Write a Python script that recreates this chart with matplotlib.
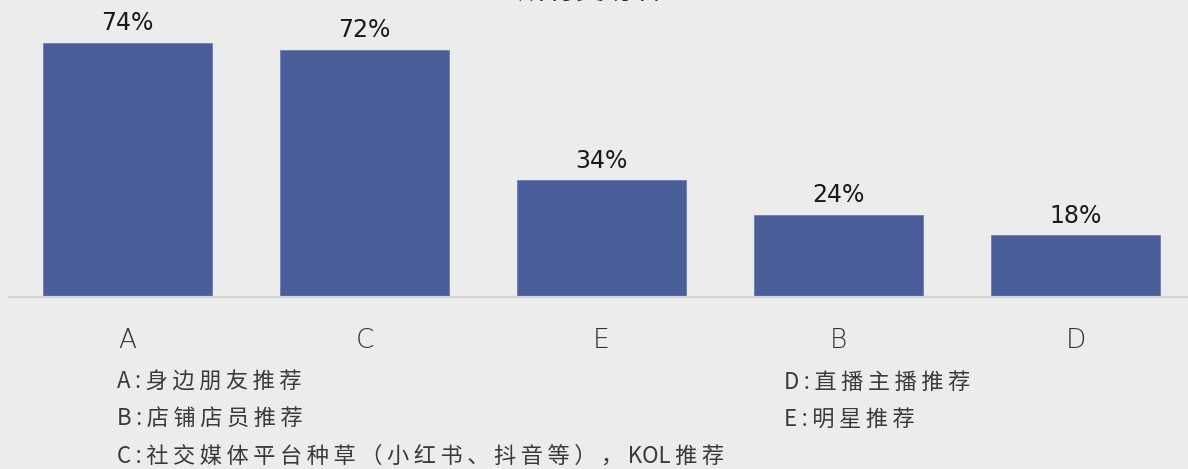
import matplotlib.pyplot as plt

plt.rcParams['font.family'] = ['Noto Sans CJK SC', 'DejaVu Sans']

# 数据
categories = ['A', 'C', 'E', 'B', 'D']
values = [74, 72, 34, 24, 18]
title = '所有受访者'
notes_left = ['A:身边朋友推荐', 'B:店铺店员推荐', 'C:社交媒体平台种草（小红书、抖音等），KOL推荐']
notes_right = ['D:直播主播推荐', 'E:明星推荐']

bar_color = '#4A5F99'
bg = '#ececec'
W, H = 1188, 469


def spaced(s):
    # 模拟原图较宽的字间距
    out = []
    for ch in s:
        out.append(ch)
        if ch not in 'KO':
            out.append('\u2009')
    return ''.join(out).rstrip('\u2009')


fig = plt.figure(figsize=(W / 100, H / 100), dpi=100, facecolor=bg)
ax = fig.add_axes([9 / W, 172 / H, 1185 / W, 275 / H])
ax.set_facecolor('none')

x = range(len(categories))
bars = ax.bar(x, values, width=0.713, color=bar_color, edgecolor='#6a7db3', linewidth=0.6, zorder=2)
ax.set_xlim(-0.5, len(categories) - 0.5)
ax.set_ylim(0, 80)

for rect, v in zip(bars, values):
    ax.annotate(f'{v}%', (rect.get_x() + rect.get_width() / 2, v),
                xytext=(0, 14), textcoords='offset points',
                ha='center', va='center', fontsize=17, color='#1a1a1a',
                family='DejaVu Sans')

for s in ['top', 'right', 'left']:
    ax.spines[s].set_visible(False)
ax.spines['bottom'].set_color('#d2d2d2')
ax.spines['bottom'].set_linewidth(1.6)
ax.set_yticks([])
ax.set_xticks(list(x))
ax.set_xticklabels(categories, fontsize=19, color='#333333', fontweight='light',
                   family='DejaVu Sans')
ax.tick_params(axis='x', length=0, pad=22)

fig.text(590 / W, 1 + 8 / H, title, ha='center', va='center', fontsize=21, color='#222222')

for i, s in enumerate(notes_left):
    fig.text(117 / W, 1 - (382 + 37 * i) / H, spaced(s), ha='left', va='center',
             fontsize=16, color='#3a3a3a')
for i, s in enumerate(notes_right):
    fig.text(784 / W, 1 - (382 + 37 * i) / H, spaced(s), ha='left', va='center',
             fontsize=16, color='#3a3a3a')

fig.savefig('out.png', dpi=100, facecolor=bg)
